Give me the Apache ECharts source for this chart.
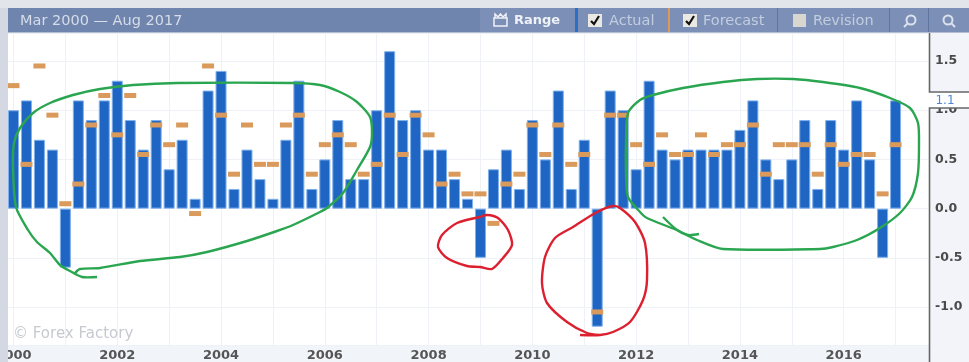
<!DOCTYPE html>
<html><head><meta charset="utf-8">
<style>html,body{margin:0;padding:0;background:#fff;overflow:hidden}#chart{width:969px;height:362px;filter:blur(0.45px)}</style>
<script src="https://cdn.jsdelivr.net/npm/echarts@6/dist/echarts.min.js"></script>
</head><body><div id="chart"></div>
<script>
const quarters = [];
for (let y = 2000; y <= 2017; y++) for (const m of ['Mar','Jun','Sep','Dec']) quarters.push(m + ' ' + y);
const categories = quarters.slice(0, 71);
const actual = [1.0,1.1,0.7,0.6,-0.6,1.1,0.9,1.1,1.3,0.9,0.6,0.9,0.4,0.7,0.1,1.2,1.4,0.2,0.6,0.3,0.1,0.7,1.3,0.2,0.5,0.9,0.3,0.3,1.0,1.6,0.9,1.0,0.6,0.6,0.3,0.1,-0.5,0.4,0.6,0.2,0.9,0.5,1.2,0.2,0.7,-1.2,1.2,1.0,0.4,1.3,0.6,0.5,0.6,0.6,0.6,0.6,0.8,1.1,0.5,0.3,0.5,0.9,0.2,0.9,0.6,1.1,0.5,-0.5,1.1];
const forecast = [1.25,0.45,1.45,0.95,0.05,0.25,0.85,1.15,0.75,1.15,0.55,0.85,0.65,0.85,-0.05,1.45,0.95,0.35,0.85,0.45,0.45,0.85,0.95,0.35,0.65,0.75,0.65,0.35,0.45,0.95,0.55,0.95,0.75,0.25,0.35,0.15,0.15,-0.15,0.25,0.35,0.85,0.55,0.85,0.45,0.55,-1.05,0.95,0.95,0.65,0.45,0.75,0.55,0.55,0.75,0.55,0.65,0.65,0.85,0.35,0.65,0.65,0.65,0.35,0.65,0.45,0.55,0.55,0.15,0.65];
const yTicks = [-1,-0.5,0,0.5,1,1.5];
const font = 'DejaVu Sans';
const hand = (pts, color) => ({type:'polyline', z:110, shape:{points:pts, smooth:0.25}, style:{fill:null, stroke:color, lineWidth:2.4}});
const lbl = (x, text, color, weight, size) => ({type:'text', z:101, x, y:21, style:{text, fill:color, font:(weight||'normal')+' '+(size||14.5)+'px "'+font+'"', verticalAlign:'middle', align:'left'}});
const bar = (x,w,c) => ({type:'rect', z:101, shape:{x,y:8,width:w,height:24}, style:{fill:c}});
const check = (x) => ([
 {type:'rect', z:101, shape:{x,y:14,width:14,height:13}, style:{fill:'#e9e8e2'}},
 {type:'polyline', z:102, shape:{points:[[x+3,21],[x+6,24],[x+11,16]]}, style:{fill:null,stroke:'#111',lineWidth:2.2}}
]);
const lens = (cx,flip) => ([
 {type:'circle', z:101, shape:{cx,cy:20,r:4.5}, style:{fill:null,stroke:'#dbe2ee',lineWidth:2}},
 {type:'line', z:101, shape:flip?{x1:cx-3,y1:23,x2:cx-7,y2:27}:{x1:cx+3,y1:23,x2:cx+7,y2:27}, style:{stroke:'#dbe2ee',lineWidth:2}}
]);
const option = {
  animation:false,
  backgroundColor:'#fff',
  textStyle:{fontFamily:font},
  grid:{left:7,top:33,width:921,height:312,outerBoundsMode:'none',containLabel:false},
  xAxis:{type:'category',position:'bottom',data:categories,
    axisLine:{show:false},axisTick:{show:false},
    axisLabel:{interval:7,margin:4,fontSize:13,fontWeight:'bold',color:'#555',hideOverlap:false,
      formatter:(v)=>v.slice(4)},
    splitLine:{show:true,interval:3,alignWithLabel:true,lineStyle:{color:'#eef1f6',width:1}}},
  yAxis:{type:'value',position:'right',min:-1.386,max:1.785,
    axisLine:{show:false},axisTick:{show:false},
    axisLabel:{customValues:yTicks,margin:7,fontSize:12.5,fontWeight:'bold',color:'#4a4a4a',formatter:(v)=>v.toFixed(1)},
    splitLine:{show:true,customValues:yTicks,lineStyle:{color:'#eef1f6',width:1}}},
  series:[
    {name:'Actual',type:'bar',data:actual,barWidth:11,z:2,
      itemStyle:{color:'#1f66c4',borderColor:'#7fb0ec',borderWidth:1}},
    {name:'Forecast',type:'scatter',data:forecast,symbol:'rect',symbolSize:[12,5],z:3,
      itemStyle:{color:'#d99a5c',opacity:1}}
  ],
  graphic:[
    {type:'rect',z:-1,shape:{x:0,y:345,width:969,height:17},style:{fill:'#f1f4f9'}},
    {type:'rect',z:-1,shape:{x:929,y:33,width:40,height:329},style:{fill:'#f2f4f9'}},
    {type:'rect',z:100,shape:{x:0,y:0,width:8,height:362},style:{fill:'#d3d8e3'}},
    {type:'rect',z:100,shape:{x:0,y:0,width:969,height:8},style:{fill:'#e2e5ea'}},
    {type:'rect',z:100,shape:{x:929,y:92,width:40,height:16},style:{fill:'#fff'}},
    {type:'polyline',z:100,shape:{points:[[929.5,33],[929.5,92],[969,92]]},style:{fill:null,stroke:'#666',lineWidth:1.6}},
    {type:'polyline',z:100,shape:{points:[[969,108],[929.5,108],[929.5,362]]},style:{fill:null,stroke:'#666',lineWidth:1.6}},
    {type:'text',z:101,x:945,y:101,style:{text:'1.1',fill:'#4d86d6',font:'12px "'+font+'"',align:'center',verticalAlign:'middle'}},
    {type:'text',z:5,x:13,y:334,style:{text:'© Forex Factory',fill:'#c6cad0',font:'15px "'+font+'"',verticalAlign:'middle'}},
    bar(8,961,'#7085ae'),
    bar(480,95,'#7b8fb7'),
    bar(575,3,'#2a6fc4'),
    bar(578,90,'#7b8fb7'),
    bar(668,2,'#d99a5c'),
    bar(670,107,'#7b8fb7'),
    bar(777,1,'#5f749f'),
    bar(778,111,'#7b8fb7'),
    bar(889,1,'#5f749f'),
    bar(890,38,'#7b8fb7'),
    bar(928,1,'#5f749f'),
    bar(929,40,'#7b8fb7'),
    {type:'rect',z:101,shape:{x:8,y:32,width:961,height:1},style:{fill:'#b4bfd4'}},
    lbl(20,'Mar 2000 — Aug 2017','#d6dce8'),
    {type:'rect',z:101,shape:{x:494,y:18,width:13,height:8},style:{fill:null,stroke:'#eef1f6',lineWidth:1.5}},
    {type:'polyline',z:101,shape:{points:[[495,18],[495,14],[498,17],[500.5,14],[503,17],[506,14],[506,18]]},style:{fill:null,stroke:'#eef1f6',lineWidth:1.5}},
    lbl(514,'Range','#eef1f6','bold',13),
    ...check(588),
    lbl(609,'Actual','#c2cddf'),
    ...check(683),
    lbl(703,'Forecast','#c2cddf'),
    {type:'rect',z:101,shape:{x:793,y:14,width:13,height:13},style:{fill:'#d8d7cf'}},
    lbl(813,'Revision','#c2cddf'),
    ...lens(911,true),
    ...lens(948,false),
    hand([[97,277],[82,277],[70,271],[60,265],[50,253],[37,242],[28,230],[16,207],[13,167],[14,143],[20,128],[33,113],[50,103],[73,95],[100,89],[133,85],[177,83],[293,83],[320,85],[340,92],[357,102],[370,117],[372,133],[370,147],[357,170],[343,193],[327,208],[320,212],[293,225],[277,231],[247,241],[207,252],[180,257],[140,261],[100,268],[80,269],[75,273]],'#2aa650'),
    hand([[699,234],[688,235],[677,230],[663,217]],'#2aa650'),
    hand([[677,230],[697,240],[723,249],[820,249],[833,247],[857,240],[880,228],[900,213],[912,197],[918,173],[919,143],[918,123],[910,108],[890,98],[860,88],[823,82],[793,79],[757,79],[723,82],[683,88],[653,95],[640,100],[628,113],[626,143],[626,173],[628,197],[640,212],[647,218],[677,230]],'#2aa650'),
    hand([[480,217],[457,223],[442,235],[438,247],[447,258],[467,266],[480,267],[492,269],[503,258],[512,245],[508,230],[498,218],[487,215],[480,217]],'#dd2030'),
    hand([[580,335],[600,335],[613,332],[630,322],[643,300],[647,280],[645,243],[635,222],[620,208],[613,206],[597,212],[573,227],[555,238],[545,257],[542,283],[547,303],[567,322],[587,333],[600,335]],'#dd2030')
  ]
};
echarts.init(document.getElementById('chart'),null,{renderer:'canvas'}).setOption(option);
</script></body></html>
